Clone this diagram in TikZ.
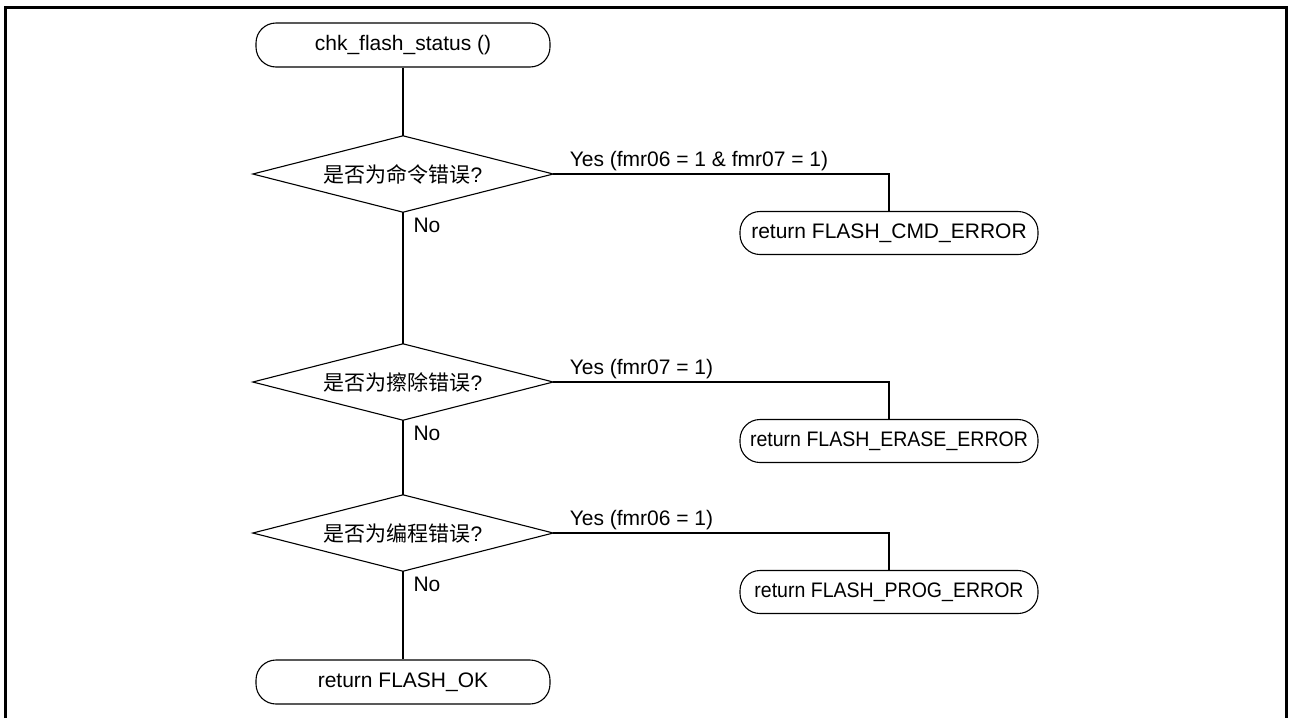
\documentclass[tikz,border=0pt]{standalone}
\usepackage{fontspec}
\setmainfont{Liberation Sans}
\newfontfamily\cjk{Noto Sans CJK SC}
\usetikzlibrary{calc}

\begin{document}
\begin{tikzpicture}[x=1pt,y=-1pt,
  txt/.style={font=\fontsize{21}{25}\selectfont},
  term/.style={txt, draw, line width=1.1pt, rounded corners=20pt,
    minimum width=294pt, minimum height=44pt, inner sep=0pt},
  exitbox/.style={term, minimum width=298pt, minimum height=43pt},
  decide/.style={txt, minimum width=300pt, minimum height=76pt, inner sep=0pt},
  flow/.style={line width=1.1pt},
  yeslbl/.style={txt, inner sep=0pt, pos=0, anchor=base west, xshift=16pt, yshift=8pt},
  nolbl/.style={txt, inner sep=0pt, pos=0, anchor=base west, xshift=10pt, yshift=-20pt}]

\useasboundingbox (0,0) rectangle (1289,718);

% outer frame, open at the bottom
\draw[line width=3pt] (5,718) -- (5,7.5) -- (1286,7.5) -- (1286,718);

% terminals
\node[term] (start) at (403,45) {chk\_flash\_status ()};
\node[term] (ok) at (403,682) {return FLASH\_OK};

% decisions (diamond outline drawn from the node anchors)
\node[decide] (d1) at (403,174) {{\cjk 是否为命令错误}?};
\node[decide] (d2) at (403,382) {{\cjk 是否为擦除错误}?};
\node[decide] (d3) at (403,533) {{\cjk 是否为编程错误}?};
\foreach \d in {d1,d2,d3}
  \draw[flow] (\d.west) -- (\d.north) -- (\d.east) -- (\d.south) -- cycle;

% error returns
\node[exitbox] (e1) at (889,233) {return FLASH\_CMD\_ERROR};
\node[exitbox] (e2) at (889,441) {\scalebox{0.93}[1]{return FLASH\_ERASE\_ERROR}};
\node[exitbox] (e3) at (889,592) {\scalebox{0.93}[1]{return FLASH\_PROG\_ERROR}};

% main path
\draw[flow] (start.south) -- (d1.north);
\draw[flow] (d1.south) -- node[nolbl] {No} (d2.north);
\draw[flow] (d2.south) -- node[nolbl] {No} (d3.north);
\draw[flow] (d3.south) -- node[nolbl] {No} (ok.north);

% yes branches
\draw[flow] (d1.east) -| node[yeslbl] {Yes (fmr06 = 1 \& fmr07 = 1)} (e1.north);
\draw[flow] (d2.east) -| node[yeslbl] {Yes (fmr07 = 1)} (e2.north);
\draw[flow] (d3.east) -| node[yeslbl] {Yes (fmr06 = 1)} (e3.north);
\end{tikzpicture}
\end{document}
